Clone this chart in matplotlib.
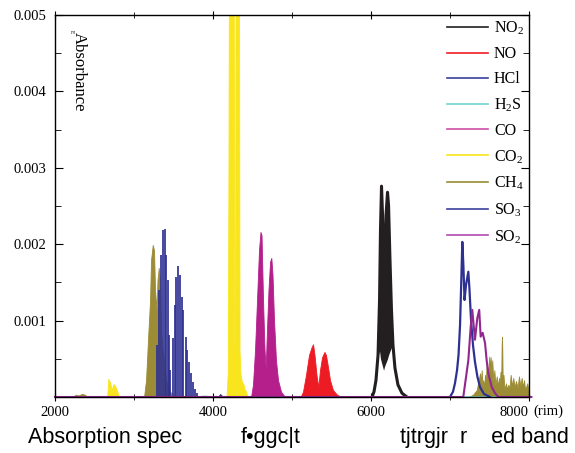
import matplotlib
matplotlib.use("Agg")
import matplotlib.pyplot as plt
from matplotlib.ticker import MultipleLocator
from matplotlib.lines import Line2D

plt.rcParams['font.family'] = ['Liberation Serif', 'DejaVu Serif']
plt.rcParams['mathtext.fontset'] = 'custom'
plt.rcParams['mathtext.rm'] = 'Liberation Serif'

# wavelength (nm) and absorbance
ch4_a_wl = [2228, 2260, 2300, 2340, 2380, 2405]
ch4_a_ab = [0, 0.00003, 0.00002, 0.00004, 0.00003, 0]
ch4_wl = [3127, 3152, 3177, 3203, 3215, 3237, 3253, 3266, 3285, 3297, 3313, 3329, 3342, 3354, 3380, 3405, 3456, 3519]
ch4_ab = [0, 0.00022, 0.00075, 0.00127, 0.00179, 0.00199, 0.00192, 0.0014, 0.00114, 0.00153, 0.00169,
          0.00153, 0.00088, 0.00068, 0.00048, 0.00022, 0.00007, 0]
ch4_b_wl = [7232, 7291, 7338, 7380, 7390, 7401, 7411, 7421, 7432, 7443, 7454, 7464, 7480, 7497, 7506, 7515, 7525,
            7535, 7548, 7561, 7575, 7591, 7605, 7620, 7630, 7639, 7648, 7654, 7658, 7662, 7667, 7677, 7690, 7709,
            7720, 7738, 7752, 7768, 7785, 7801, 7818, 7835, 7855, 7873, 7890, 7907, 7922, 7937, 7950, 7962, 7978,
            7992, 8003]
ch4_b_ab = [0, 0.00003, 0.00009, 0.00031, 0.00018, 0.00035, 0.00015, 0.00022, 0.00012, 0.00029, 0.0002, 0.00044,
            0.0003, 0.00053, 0.00035, 0.00052, 0.00033, 0.00048, 0.0002, 0.00035, 0.00015, 0.00027, 0.00014,
            0.00025, 0.00015, 0.00033, 0.00022, 0.00068, 0.00079, 0.00062, 0.0002, 0.00029, 0.0001, 0.00018,
            0.0001, 0.00016, 0.00011, 0.00029, 0.00014, 0.00025, 0.00013, 0.00021, 0.00012, 0.00027, 0.00014,
            0.00025, 0.00013, 0.00022, 0.0001, 0.00013, 0.00018, 0.00009, 0.00005]

hcl_wl = [3291, 3316, 3342, 3367, 3386, 3405, 3424, 3443, 3456,
          3490, 3513, 3535, 3557, 3580, 3604, 3626, 3652, 3675, 3699, 3721, 3747, 3772, 3797]
hcl_ab = [0.00068, 0.0014, 0.00186, 0.00219, 0.0022, 0.00186, 0.00153, 0.00081, 0.00035,
          0.00077, 0.0012, 0.00157, 0.00171, 0.0016, 0.00131, 0.00114, 0.00079, 0.00062, 0.00046, 0.00031,
          0.0002, 0.0001, 0.00005]
hcl_b_wl = [4063, 4090, 4127]
hcl_b_ab = [0, 0.00004, 0]

co2_a_wl = [2660, 2675, 2700, 2718, 2738, 2759, 2785, 2810]
co2_a_ab = [0, 0.00024, 0.00018, 0.00009, 0.00017, 0.00015, 0.00008, 0]
co2_wl = [4177, 4193, 4202, 4208, 4268, 4275, 4280, 4285, 4292, 4335, 4342, 4354, 4370, 4392, 4405, 4418, 4443]
co2_ab = [0, 0.0003, 0.003, 0.006, 0.006, 0.0008, 0.0004, 0.0008, 0.006, 0.006, 0.0006, 0.0003, 0.0002,
          0.00016, 0.0001, 0.00008, 0]

co_wl = [4481, 4506, 4532, 4557, 4582, 4601, 4614, 4633, 4652, 4667, 4683, 4702, 4722, 4738, 4753, 4772, 4797,
         4823, 4861, 4911]
co_ab = [0, 0.00016, 0.00062, 0.00127, 0.00192, 0.00216, 0.00212, 0.00127, 0.00062, 0.00038, 0.00088, 0.0014,
         0.00177, 0.00182, 0.0016, 0.00101, 0.00048, 0.00022, 0.00007, 0]

no_wl = [5108, 5139, 5177, 5215, 5247, 5266, 5285, 5310, 5333, 5354, 5380, 5411, 5430, 5456, 5481, 5519, 5570, 5627]
no_ab = [0, 0.00007, 0.00029, 0.00055, 0.00065, 0.00069, 0.00055, 0.00029, 0.00013, 0.00035, 0.00052, 0.00059,
         0.00055, 0.00039, 0.00022, 0.00009, 0.00003, 0]

# NO2: upper envelope and the lower edge of the dense part
no2_wl = [6013, 6038, 6063, 6089, 6108, 6120, 6133, 6146, 6159, 6171, 6190, 6209, 6222, 6240, 6259, 6278, 6303,
          6341, 6392, 6455]
no2_ab = [0, 0.00007, 0.00022, 0.00055, 0.00127, 0.00219, 0.00276, 0.00238, 0.00127, 0.0018, 0.00238, 0.00268,
          0.00251, 0.0018, 0.00114, 0.00068, 0.00038, 0.00016, 0.00005, 0]
no2_lo = [0, 0.00007, 0.00022, 0.00055, 0.0006, 0.0005, 0.00045, 0.0004, 0.00035, 0.0004, 0.00045, 0.0005,
          0.00055, 0.0006, 0.00065, 0.00068, 0.00038, 0.00016, 0.00005, 0]

h2s_wl = [2000, 3800, 3900, 4000, 8000]
h2s_ab = [0, 0, 0.00001, 0, 0]

so3_wl = [7000, 7038, 7063, 7089, 7108, 7127, 7143, 7156, 7169, 7184, 7203, 7232, 7247, 7266, 7291, 7316, 7348,
          7380, 7430, 7506]
so3_ab = [0, 0.00007, 0.00018, 0.00035, 0.00055, 0.00094, 0.00153, 0.00203, 0.00173, 0.00127, 0.00147, 0.00164,
          0.0014, 0.00101, 0.00068, 0.00046, 0.00026, 0.00013, 0.00004, 0]

so2_wl = [2000, 7168, 7232, 7262, 7282, 7316, 7345, 7370, 7388, 7413, 7443, 7464, 7485, 7528, 7570, 7611, 8030]
so2_ab = [0, 0, 0.00048, 0.00092, 0.00114, 0.00075, 0.00103, 0.00114, 0.00079, 0.00084, 0.00071, 0.00048,
          0.00031, 0.00013, 0.00005, 0, 0]

c_no2 = '#231f20'
c_no = '#ed1c24'
c_hcl = '#2e3192'
c_h2s = '#6fd3cf'
c_co = '#b51f8b'
c_co2 = '#f9e51e'
c_ch4 = '#9b8c35'
c_so3 = '#2e3192'
c_so2 = '#92278f'

fig = plt.figure(figsize=(5.75, 4.53), dpi=100)
ax = fig.add_axes([0.0957, 0.1236, 0.8243, 0.8433])

ax.fill_between(ch4_a_wl, ch4_a_ab, color=c_ch4, lw=0.6)
ax.fill_between(co2_a_wl, co2_a_ab, color=c_co2, lw=0.6)
ax.fill_between(ch4_wl, ch4_ab, color=c_ch4, lw=0.6)
ax.vlines(hcl_wl, 0, hcl_ab, color=c_hcl, lw=1.25)
ax.fill_between(hcl_b_wl, hcl_b_ab, color=c_hcl, lw=0.6)
ax.fill_between(co2_wl, co2_ab, color=c_co2, lw=0.6)
ax.fill_between(co_wl, co_ab, color=c_co, lw=0.6)
ax.fill_between(no_wl, no_ab, color=c_no, lw=0.6)
ax.fill_between(no2_wl, no2_lo, no2_ab, color=c_no2, lw=0)
ax.plot(no2_wl, no2_ab, color=c_no2, lw=2.2)
ax.fill_between(ch4_b_wl, ch4_b_ab, color=c_ch4, lw=0.6)
ax.plot(h2s_wl, h2s_ab, color=c_h2s, lw=1)
ax.plot(so3_wl, so3_ab, color=c_so3, lw=1.6)
ax.plot(so2_wl, so2_ab, color=c_so2, lw=1.5, clip_on=False)

ax.set_xlim(2000, 8000)
ax.set_ylim(0, 0.005)
ax.xaxis.set_major_locator(MultipleLocator(2000))
ax.xaxis.set_minor_locator(MultipleLocator(1000))
ax.yaxis.set_minor_locator(MultipleLocator(0.0005))
ax.set_yticks([0.001, 0.002, 0.003, 0.004, 0.005])
ax.set_yticklabels(['0.001', '0.002', '0.003', '0.004', '0.005'])
ax.set_xticks([2000, 4000, 6000, 8000])
ax.set_xticklabels(['2000', '4000', '6000', '8000'])
ax.get_xticklabels()[-1].set_ha('right')
ax.tick_params(axis='y', which='both', direction='in', right=True, labelsize=10.5, pad=6)
ax.tick_params(axis='x', which='both', direction='inout', top=True, labelsize=10.5)
ax.tick_params(which='major', length=6)
ax.tick_params(which='minor', length=4)
for s in ax.spines.values():
    s.set_linewidth(1.0)

ax.text(0.05, 0.955, 'Absorbance', transform=ax.transAxes, rotation=-90, ha='center', va='top', fontsize=12)
ax.text(0.035, 0.96, 'E', transform=ax.transAxes, rotation=-90, ha='center', va='top', fontsize=4)
fig.text(533 / 575, 1 - 411 / 453, '(rim)', ha='left', va='center', fontsize=10.5)

names = ['NO$_\\mathrm{2}$', 'NO', 'HCl', 'H$_\\mathrm{2}$S', 'CO', 'CO$_\\mathrm{2}$', 'CH$_\\mathrm{4}$',
         'SO$_\\mathrm{3}$', 'SO$_\\mathrm{2}$']
colors = [c_no2, c_no, '#3a3f9e', c_h2s, '#cf4fa8', c_co2, c_ch4, '#3a3f9e', '#b04ab0']
handles = [Line2D([], [], color=c, lw=1.2) for c in colors]
ax.legend(handles, names, loc='upper right', frameon=False, fontsize=11.5, handlelength=2.6,
          labelspacing=0.56, borderpad=0, borderaxespad=0.3, handletextpad=0.35)

fig.text(28 / 575, 1 - 438 / 453, 'Absorption spec', family='Liberation Sans', fontsize=15.5, va='center')
fig.text(241 / 575, 1 - 438 / 453, 'f•ggc|t', family='Liberation Sans', fontsize=15.5, va='center')
fig.text(400 / 575, 1 - 438 / 453, 'tjtrgjr  r    ed band', family='Liberation Sans', fontsize=15.5, va='center')

fig.savefig('out.png', dpi=100)
